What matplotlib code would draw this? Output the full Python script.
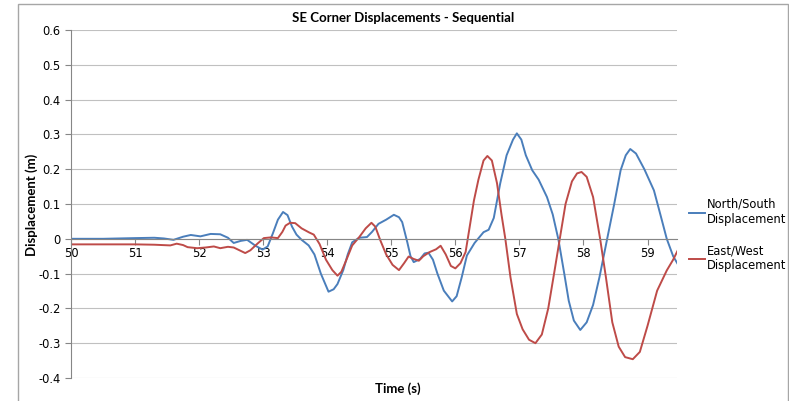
import matplotlib
matplotlib.use("Agg")
import matplotlib.pyplot as plt
from matplotlib.patches import Rectangle

# Time (s) and displacement (m)
ns_time = [50.0, 50.5, 51.0, 51.3, 51.45, 51.6, 51.75, 51.87, 52.02, 52.18, 52.33, 52.45,
           52.54, 52.65, 52.75, 52.88, 52.99, 53.07, 53.15, 53.23, 53.31, 53.38, 53.45,
           53.52, 53.6, 53.71, 53.8, 53.9, 54.02, 54.1, 54.16, 54.25, 54.32, 54.39, 54.5,
           54.62, 54.7, 54.8, 54.92, 55.04, 55.12, 55.17, 55.25, 55.3, 55.35, 55.45, 55.52,
           55.58, 55.65, 55.72, 55.82, 55.95, 56.02, 56.1, 56.18, 56.3, 56.44, 56.52, 56.6,
           56.7, 56.8, 56.9, 56.96, 57.03, 57.1, 57.2, 57.3, 57.43, 57.52, 57.61, 57.7,
           57.77, 57.85, 57.95, 58.05, 58.15, 58.25, 58.37, 58.48, 58.58, 58.66, 58.73,
           58.82, 58.95, 59.1, 59.2, 59.3, 59.4, 59.47]
ns_disp = [0.0, 0.0, 0.002, 0.003, 0.001, -0.003, 0.006, 0.011, 0.007, 0.014, 0.013, 0.003,
           -0.012, -0.006, -0.003, -0.02, -0.031, -0.022, 0.015, 0.055, 0.077, 0.068, 0.035,
           0.012, -0.003, -0.019, -0.045, -0.1, -0.152, -0.145, -0.13, -0.09, -0.045, -0.01,
           0.003, 0.005, 0.02, 0.043, 0.055, 0.069, 0.062, 0.048, -0.01, -0.05, -0.067,
           -0.058, -0.042, -0.04, -0.06, -0.1, -0.149, -0.18, -0.165, -0.11, -0.048, -0.012,
           0.019, 0.026, 0.06, 0.159, 0.24, 0.285, 0.303, 0.285, 0.24, 0.197, 0.17, 0.12,
           0.07, -0.003, -0.1, -0.178, -0.235, -0.262, -0.24, -0.19, -0.11, 0.0, 0.1, 0.197,
           0.24, 0.258, 0.245, 0.2, 0.139, 0.07, 0.0, -0.05, -0.072]

ew_time = [50.0, 50.5, 51.0, 51.3, 51.55, 51.65, 51.75, 51.82, 51.97, 52.1, 52.23, 52.33,
           52.45, 52.54, 52.63, 52.72, 52.8, 52.91, 53.01, 53.12, 53.23, 53.3, 53.35, 53.42,
           53.5, 53.6, 53.72, 53.79, 53.88, 53.98, 54.08, 54.16, 54.22, 54.3, 54.39, 54.5,
           54.6, 54.69, 54.75, 54.83, 54.92, 55.02, 55.12, 55.2, 55.27, 55.35, 55.43, 55.5,
           55.6, 55.7, 55.77, 55.85, 55.93, 56.0, 56.08, 56.16, 56.22, 56.29, 56.36, 56.44,
           56.5, 56.57, 56.65, 56.72, 56.78, 56.86, 56.96, 57.05, 57.15, 57.25, 57.35, 57.45,
           57.55, 57.64, 57.72, 57.82, 57.9, 57.97, 58.05, 58.15, 58.26, 58.35, 58.45, 58.55,
           58.65, 58.77, 58.88, 59.0, 59.15, 59.3, 59.4, 59.47]
ew_disp = [-0.016, -0.016, -0.016, -0.017, -0.019, -0.014, -0.018, -0.024, -0.027, -0.025,
           -0.022, -0.027, -0.023, -0.025, -0.033, -0.041, -0.033, -0.014, 0.002, 0.004,
           0.002, 0.02, 0.038, 0.046, 0.045, 0.03, 0.018, 0.012, -0.015, -0.06, -0.09,
           -0.106, -0.095, -0.06, -0.019, 0.005, 0.03, 0.046, 0.035, -0.005, -0.045, -0.075,
           -0.09, -0.07, -0.051, -0.058, -0.063, -0.05, -0.038, -0.03, -0.02, -0.045, -0.078,
           -0.085, -0.07, -0.038, 0.03, 0.11, 0.17, 0.225, 0.238, 0.225, 0.16, 0.07, 0.0,
           -0.11, -0.216, -0.26, -0.29, -0.3, -0.275, -0.2, -0.09, 0.011, 0.1, 0.165, 0.188,
           0.192, 0.178, 0.12, 0.0, -0.11, -0.24, -0.31, -0.34, -0.346, -0.325, -0.25,
           -0.149, -0.091, -0.06, -0.034]

x_ticks = [50, 51, 52, 53, 54, 55, 56, 57, 58, 59]
y_ticks = [-0.4, -0.3, -0.2, -0.1, 0, 0.1, 0.2, 0.3, 0.4, 0.5, 0.6]
y_labels = ["-0.4", "-0.3", "-0.2", "-0.1", "0", "0.1", "0.2", "0.3", "0.4", "0.5", "0.6"]

plt.rcParams["font.family"] = ["DejaVu Sans"]

fig = plt.figure(figsize=(7.89, 4.01), dpi=100)
# outer chart frame (bottom edge is cut off in the original)
fig.patches.append(Rectangle((18 / 789, -0.1), 770 / 789, 1.1 - 4 / 401, transform=fig.transFigure,
                             fill=False, edgecolor="#a6a6a6", linewidth=1.0))

ax = fig.add_axes([71 / 789, 1 - 378 / 401, (677 - 71) / 789, (378 - 30) / 401])
ax.plot(ns_time, ns_disp, color="#4a7ebb", linewidth=1.4, label="North/South\nDisplacement",
        solid_joinstyle="round")
ax.plot(ew_time, ew_disp, color="#be4b48", linewidth=1.4, label="East/West\nDisplacement",
        solid_joinstyle="round")

ax.set_xlim(50, 59.46)
ax.set_ylim(-0.4, 0.6)
ax.set_xticks(x_ticks)
ax.set_yticks(y_ticks)
ax.set_yticklabels(y_labels)
ax.grid(axis="y", color="#c0c0c0", linewidth=0.8)
ax.set_axisbelow(True)

for side in ["top", "right"]:
    ax.spines[side].set_visible(False)
ax.spines["bottom"].set_position(("data", 0))
ax.spines["bottom"].set_color("#868686")
ax.spines["left"].set_color("#868686")
ax.tick_params(axis="both", colors="#868686", labelcolor="black", labelsize=8.3, length=4)
ax.tick_params(axis="x", pad=2)

fig.text(403 / 789, 1 - 18 / 401, "SE Corner Displacements - Sequential", ha="center",
         va="center", fontsize=9.5, fontweight="bold", family="Lato")
fig.text(398 / 789, 1 - 389 / 401, "Time (s)", ha="center", va="center",
         fontsize=9.5, fontweight="bold", family="Lato")
fig.text(32 / 789, 1 - 205 / 401, "Displacement (m)", ha="center", va="center",
         rotation=90, fontsize=9.5, fontweight="bold", family="Lato")

ax.legend(loc="upper left", bbox_to_anchor=(683 / 789, 1 - 192 / 401),
          bbox_transform=fig.transFigure, frameon=False, fontsize=8.3,
          handlelength=1.4, handletextpad=0.15, labelspacing=1.6, borderpad=0)

fig.savefig("out.png", dpi=100)
